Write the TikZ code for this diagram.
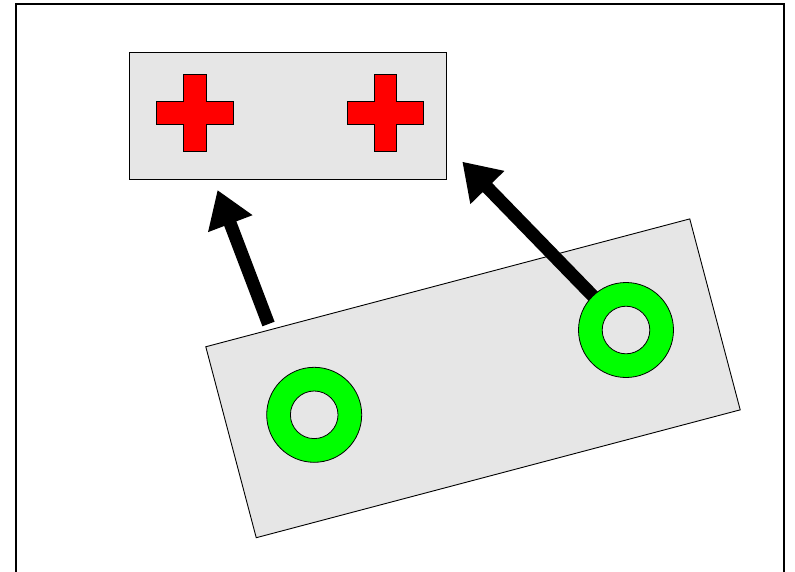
\documentclass[tikz,border=0pt]{standalone}
\usetikzlibrary{arrows.meta}
\definecolor{boxgray}{HTML}{E6E6E6}
\definecolor{ringgreen}{HTML}{00FF00}
\definecolor{crossred}{HTML}{FF0000}
\tikzset{
  boxstyle/.style={draw=black, fill=boxgray, line width=0.9pt, inner sep=0pt, outer sep=0pt},
  bigarrow/.style={line width=13pt, -{Triangle[length=36pt,width=45pt]}},
  ringanchor/.style={circle, minimum size=95pt, inner sep=0pt, outer sep=0pt},
  redcross/.pic={\draw[fill=crossred, line width=0.8pt]
    (-11.3,-38.3) -- (11.3,-38.3) -- (11.3,-11.3) -- (38.3,-11.3) -- (38.3,11.3)
    -- (11.3,11.3) -- (11.3,38.3) -- (-11.3,38.3) -- (-11.3,11.3) -- (-38.3,11.3)
    -- (-38.3,-11.3) -- (-11.3,-11.3) -- cycle;},
  greenring/.pic={\draw[fill=ringgreen, line width=0.8pt] (0,0) circle[radius=47.5];
    \draw[fill=boxgray, line width=0.8pt] (0,0) circle[radius=23.8];}
}
\begin{document}
\begin{tikzpicture}[x=1pt,y=-1pt]
\useasboundingbox (0,0) rectangle (795,571);
\begin{scope}
\clip (0,0) rectangle (795,571);
\draw[line width=1.2pt, fill=white] (16,4) rectangle (784,600);
\end{scope}
% top box
\node[boxstyle, minimum width=317pt, minimum height=127pt] (topbox) at (287.5,115.5) {};
\pic at (195,113) {redcross};
\pic at (385.5,113) {redcross};
% rotated box
\node[boxstyle, minimum width=500.6pt, minimum height=197.5pt, rotate=14.8] (tiltbox) at (473,378.3) {};
% rings positions
\node[ringanchor] (ringA) at (314.2,414.8) {};
\node[ringanchor] (ringB) at (626,330) {};
% arrows
\coordinate (a1s) at (268.5,324);
\coordinate (a1e) at (217.5,190);
\coordinate (a2e) at (462.3,161.7);
\draw[bigarrow] (a1s) -- (a1e);
\draw[bigarrow, shorten <=-3pt] (ringB) -- (a2e);
% rings
\pic at (ringA.center) {greenring};
\pic at (ringB.center) {greenring};
\end{tikzpicture}
\end{document}
